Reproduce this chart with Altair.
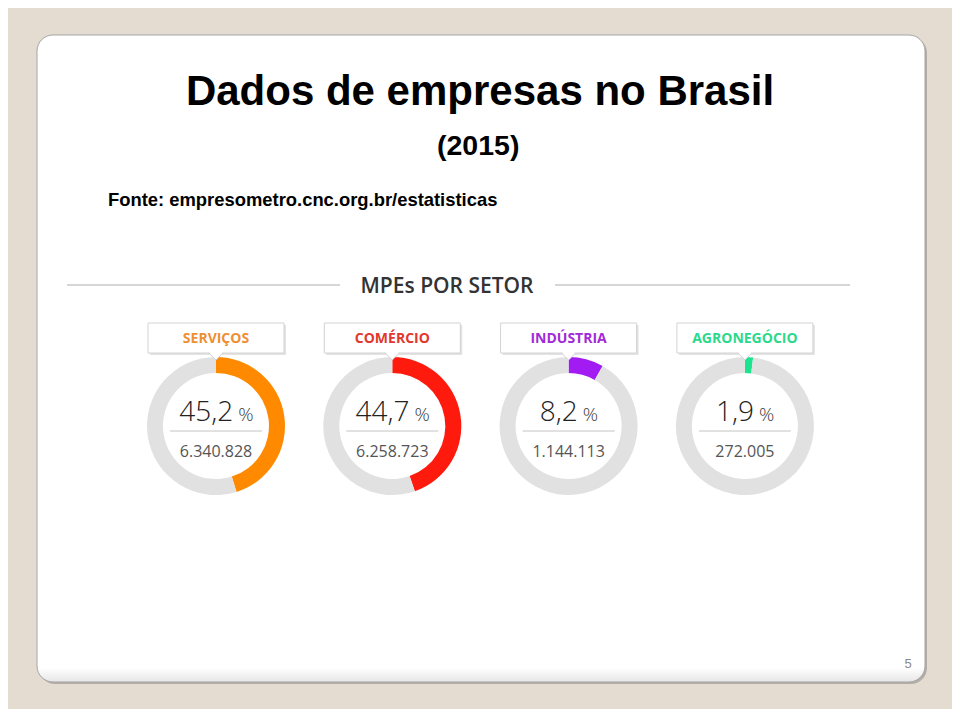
import math
import altair as alt
import pandas as pd

# ---- data ----
setores = ["SERVIÇOS", "COMÉRCIO", "INDÚSTRIA", "AGRONEGÓCIO"]
percentuais = [45.2, 44.7, 8.2, 1.9]
empresas = [6340828, 6258723, 1144113, 272005]

# ---- styles ----
ring_colors = ["#FF8A00", "#FF1A0E", "#A21BF2", "#1AE58E"]
label_colors = ["#EE8F33", "#E2372D", "#A22AD8", "#2BD98C"]
GRAY_RING = "#E1E1E1"

W, H = 944, 701
OFF = 8  # page margin


def px(v):
    return v - OFF


CX0, DCX = 216, 176.3
CY = 426
R_OUT, R_IN = 69, 53
TAU = 2 * math.pi


def fmt_pct(p):
    return f"{p:.1f}".replace(".", ",")


def fmt_int(n):
    return f"{n:,}".replace(",", ".")


def num_width(s, size):
    w = 0
    for ch in s:
        w += 0.26 * size if ch in ",." else 0.572 * size
    return w


BIG = 28
rows = []
slices = []
for i, (s, p, n) in enumerate(zip(setores, percentuais, empresas)):
    cx = CX0 + i * DCX
    ps = fmt_pct(p)
    wn = num_width(ps, BIG)
    group = wn + 5 + 16
    num_right = cx - group / 2 + wn
    rows.append(dict(setor=s, pct=ps, n=fmt_int(n), cx=px(cx),
                     bl=px(cx - 68), br=px(cx + 68),
                     bls=px(cx - 66), brs=px(cx + 70),
                     numr=px(num_right), pctl=px(num_right + 5),
                     ll=px(cx - 46), lr=px(cx + 46),
                     nl=px(cx - 6), nr=px(cx + 6),
                     lcolor=label_colors[i]))
    slices.append(dict(setor=s, v=p, ord=0, c=ring_colors[i]))
    slices.append(dict(setor=s, v=100 - p, ord=1, c=GRAY_RING))

df = pd.DataFrame(rows)
dfs = pd.DataFrame(slices)
one = pd.DataFrame({"k": [0]})

base1 = alt.Chart(one)

# slide panel
shadow = base1.mark_rect(cornerRadius=16, fill="#B4AEA6").encode(
    x=alt.value(px(39)), x2=alt.value(px(927)), y=alt.value(px(37)), y2=alt.value(px(684)))
panel = base1.mark_rect(
    cornerRadius=16, stroke="#A5A5A5", strokeWidth=1,
    fill={"gradient": "linear", "x1": 0, "y1": 0, "x2": 0, "y2": 1,
          "stops": [{"offset": 0, "color": "#FFFFFF"},
                    {"offset": 0.978, "color": "#FFFFFF"},
                    {"offset": 1, "color": "#E6E6E6"}]}).encode(
    x=alt.value(px(37)), x2=alt.value(px(925)), y=alt.value(px(35)), y2=alt.value(px(682)))

title = base1.mark_text(font="Liberation Sans", fontSize=42, fontWeight="bold",
                        align="center", baseline="alphabetic", color="#000000").encode(
    x=alt.value(px(480)), y=alt.value(px(105)), text=alt.value("Dados de empresas no Brasil"))
year = base1.mark_text(font="Liberation Sans", fontSize=28.5, fontWeight="bold",
                       align="left", baseline="alphabetic", color="#000000").encode(
    x=alt.value(px(437)), y=alt.value(px(155)), text=alt.value("(2015)"))
fonte = base1.mark_text(font="Liberation Sans", fontSize=18.4, fontWeight="bold",
                        align="left", baseline="alphabetic", color="#000000").encode(
    x=alt.value(px(108)), y=alt.value(px(206)),
    text=alt.value("Fonte: empresometro.cnc.org.br/estatisticas"))

header = base1.mark_text(font="Open Sans", fontSize=21, fontWeight=600,
                         align="center", baseline="alphabetic", color="#333333").encode(
    x=alt.value(px(447)), y=alt.value(px(293)), text=alt.value("MPEs POR SETOR"))
hl1 = base1.mark_rule(color="#C9C9C9", strokeWidth=1.5).encode(
    x=alt.value(px(67)), x2=alt.value(px(340)), y=alt.value(px(285)))
hl2 = base1.mark_rule(color="#C9C9C9", strokeWidth=1.5).encode(
    x=alt.value(px(555)), x2=alt.value(px(850)), y=alt.value(px(285)))

page = base1.mark_text(font="Liberation Sans", fontSize=13, align="center",
                       baseline="alphabetic", color="#8A8A8A").encode(
    x=alt.value(px(908)), y=alt.value(px(668)), text=alt.value("5"))

base = alt.Chart(df)

box_shadow = base.mark_rect(fill="#E3E3E3").encode(
    x=alt.X("bls:Q", scale=None), x2="brs:Q", y=alt.value(px(325)), y2=alt.value(px(355)))
box = base.mark_rect(fill="#FFFFFF", stroke="#D3D3D3", strokeWidth=1).encode(
    x=alt.X("bl:Q", scale=None), x2="br:Q", y=alt.value(px(323)), y2=alt.value(px(353)))
box_txt = base.mark_text(font="Open Sans", fontSize=14, fontWeight="bold",
                         align="center", baseline="alphabetic").encode(
    x=alt.X("cx:Q", scale=None), y=alt.value(px(343)), text="setor:N",
    color=alt.Color("lcolor:N", scale=None))

rings = []
for i, s in enumerate(setores):
    cx = CX0 + i * DCX
    rings.append(
        alt.Chart(dfs).transform_filter(alt.datum.setor == s)
        .mark_arc(radius=R_OUT, radius2=R_IN)
        .encode(
            x=alt.value(px(cx)), y=alt.value(px(CY)),
            theta=alt.Theta("v:Q", stack=True,
                            scale=alt.Scale(domain=[0, 100], range=[0, TAU])),
            order=alt.Order("ord:Q"),
            fill=alt.Color("c:N", scale=None),
        )
    )

notch_cover = base.mark_rule(color="#FFFFFF", strokeWidth=2.5).encode(
    x=alt.X("nl:Q", scale=None), x2="nr:Q", y=alt.value(px(353)))
notch = base.mark_point(shape="M -1 0 L 0 1 L 1 0", size=196, filled=False,
                        fill="#FFFFFF", fillOpacity=1, stroke="#D3D3D3",
                        strokeWidth=1, opacity=1).encode(
    x=alt.X("cx:Q", scale=None), y=alt.value(px(353)))

big = base.mark_text(font="Open Sans", fontSize=BIG, fontWeight=300,
                     align="right", baseline="alphabetic", color="#222222").encode(
    x=alt.X("numr:Q", scale=None), y=alt.value(px(421)), text="pct:N")
pct_sign = base.mark_text(font="Open Sans", fontSize=19, fontWeight=300,
                          align="left", baseline="alphabetic", color="#3A3A3A").encode(
    x=alt.X("pctl:Q", scale=None), y=alt.value(px(421)), text=alt.value("%"))
divider = base.mark_rule(color="#C4C4C4", strokeWidth=1).encode(
    x=alt.X("ll:Q", scale=None), x2="lr:Q", y=alt.value(px(431)))
count = base.mark_text(font="Open Sans", fontSize=16, align="center",
                       baseline="alphabetic", color="#555555").encode(
    x=alt.X("cx:Q", scale=None), y=alt.value(px(457)), text="n:N")

chart = alt.layer(
    shadow, panel, title, year, fonte, header, hl1, hl2, page,
    box_shadow, box, box_txt, *rings, notch_cover, notch,
    big, pct_sign, divider, count,
).properties(
    width=W, height=H, background="#E4DCD1", padding=0, autosize="none"
).configure_view(stroke=None)

chart.save("out.html", embed_options={"renderer": "svg", "actions": False})
